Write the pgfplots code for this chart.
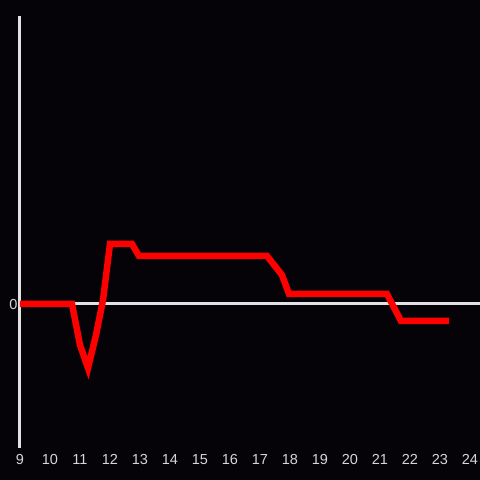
\documentclass[border=0pt]{standalone}
\usepackage{pgfplots}
\pgfplotsset{compat=1.18}
\usepackage{fontspec}
\setmainfont{Liberation Sans}
\definecolor{bg}{HTML}{050307}
\definecolor{axisc}{HTML}{E2E2E2}
\definecolor{tickc}{HTML}{D6D6D6}
\definecolor{linec}{HTML}{FF0000}
\begin{document}
\begin{tikzpicture}[x=1pt,y=1pt]
\fill[bg] (-20,-32) rectangle (460,448);
\begin{axis}[
  at={(0,0)}, anchor=south west,
  scale only axis, width=460pt, height=432pt,
  xmin=9, xmax=24.3333, ymin=-144, ymax=288,
  axis x line=bottom, axis y line=left,
  x axis line style={draw=none, -},
  y axis line style={draw=axisc, line width=3pt, -},
  xtick={9,10,...,24}, ytick={0},
  major tick length=0pt,
  tick style={draw=none},
  ticklabel style={text=tickc, font=\fontsize{14.5}{16}\selectfont},
  /pgf/number format/assume math mode=true,
  xticklabel style={yshift=-3pt},
  yticklabel style={xshift=1pt, yshift=-1pt},
  clip=false,
]
\addplot[axisc, line width=3pt] coordinates {(9,0) (24.3333,0)};
\addplot[linec, line width=6.5pt, line join=miter] coordinates {
(9,0) (10.733,0) (11.0,-41) (11.267,-64) (11.533,-31) (11.767,4) (12.0,60)
(12.733,60) (12.967,48) (17.233,48) (17.733,29) (17.967,10) (21.233,10)
(21.7,-17) (23.3,-17)
};
\end{axis}
\pgfresetboundingbox
\useasboundingbox (-20,-32) rectangle (460,448);
\end{tikzpicture}
\end{document}
